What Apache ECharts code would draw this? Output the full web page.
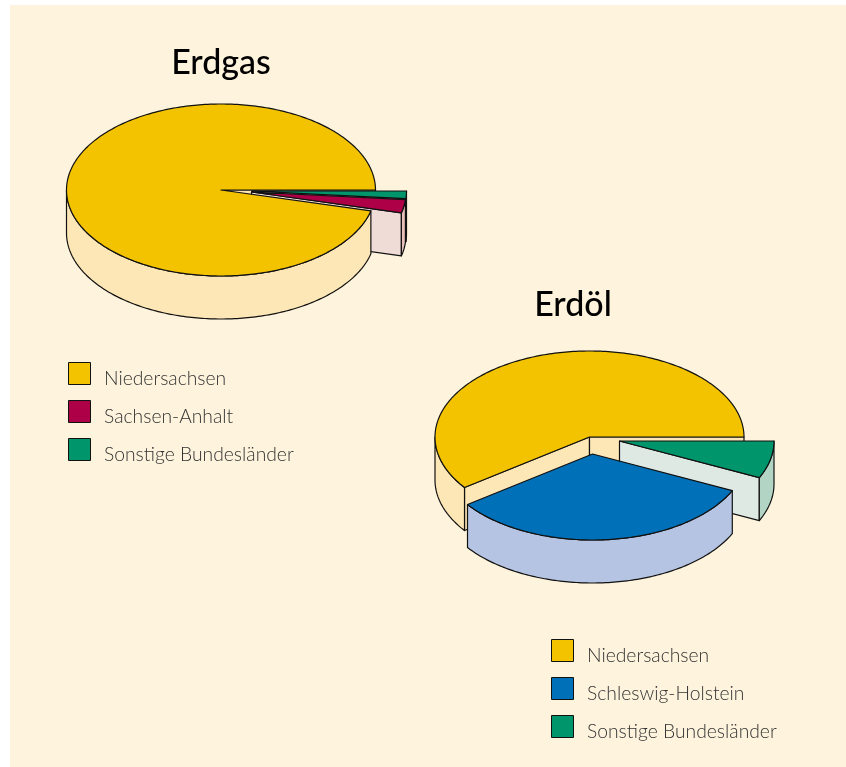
<!DOCTYPE html>
<html><head><meta charset="utf-8">
<style>html,body{margin:0;padding:0;background:#fff}#c{width:846px;height:767px}</style>
<script src="https://cdn.jsdelivr.net/npm/echarts@6/dist/echarts.min.js"></script>
</head><body><div id="c"></div>
<script>
// Data (percent shares)
const gasNames = ['Niedersachsen', 'Sachsen-Anhalt', 'Sonstige Bundesländer'];
const gasValues = [96.1, 2.5, 1.4];
const oilNames = ['Niedersachsen', 'Schleswig-Holstein', 'Sonstige Bundesländer'];
const oilValues = [60, 33, 7];

// Styles
const topColors = { 'Niedersachsen': '#f4c300', 'Sachsen-Anhalt': '#ad0046', 'Schleswig-Holstein': '#0070b8', 'Sonstige Bundesländer': '#00956b' };
const faceColors = { 'Niedersachsen': '#fde7b6', 'Sachsen-Anhalt': '#f0dcd6', 'Schleswig-Holstein': '#b6c4e3', 'Sonstige Bundesländer': '#dfe9e4' };
const rimColors = { 'Niedersachsen': '#fde7b6', 'Sachsen-Anhalt': '#e8c2ba', 'Schleswig-Holstein': '#b6c4e3', 'Sonstige Bundesländer': '#b2d4c4' };
const INK = '#111';

const pies = [
  { names: gasNames, values: gasValues, cx: 221, cy: 190, rx: 154.5, ry: 86, depth: 43,
    explode: [[0, 0], [30.5, 2], [31, 1]] },
  { names: oilNames, values: oilValues, cx: 589.5, cy: 437, rx: 154.5, ry: 86, depth: 43,
    explode: [[0, 0], [3, 17], [30, 4]] }
];

// Slices run counter-clockwise on screen from east; angle t is measured clockwise (y down).
function sliceAngles(values) {
  const total = values.reduce((a, b) => a + b, 0);
  let end = 360;
  return values.map(v => {
    const sweep = v / total * 360;
    const r = [end - sweep, end];
    end -= sweep;
    return r;
  });
}
function pt(o, t, dy) {
  const a = t * Math.PI / 180;
  return [o.x + o.rx * Math.cos(a), o.y + o.ry * Math.sin(a) + (dy || 0)];
}
function arc(o, a, b, dy) {
  const n = Math.max(2, Math.ceil(Math.abs(b - a)) + 1), out = [];
  for (let i = 0; i < n; i++) out.push(pt(o, a + (b - a) * i / (n - 1), dy));
  return out;
}
function poly(points, fill, z2) {
  return { type: 'polygon', z2: z2, shape: { points: points },
    style: { fill: fill, stroke: INK, lineWidth: 1.2, lineJoin: 'round' } };
}
function sliceSeries(pie, idx) {
  const angles = sliceAngles(pie.values);
  const name = pie.names[idx];
  return {
    type: 'custom', name: name, coordinateSystem: 'none', silent: true,
    animation: false,
    itemStyle: { color: topColors[name] },
    data: [pie.values[idx]],
    renderItem: function () {
      const [a, b] = angles[idx];
      const e = pie.explode[idx];
      const o = { x: pie.cx + e[0], y: pie.cy + e[1], rx: pie.rx, ry: pie.ry };
      const d = pie.depth, c = [o.x, o.y], children = [];
      // Painter's order: the biggest slice's cut faces first, then the rest back to front
      const base = idx === 0 ? 0 : (idx === 1 ? 12 : 6);
      const cut = t => {
        const p = pt(o, t);
        return poly([c, p, [p[0], p[1] + d], [c[0], c[1] + d]], faceColors[name], base);
      };
      if (Math.sin((a - 90) * Math.PI / 180) > 0) children.push(cut(a));
      if (Math.sin((b + 90) * Math.PI / 180) > 0) children.push(cut(b));
      const lo = Math.max(a, 0), hi = Math.min(b, 180);
      if (hi > lo) {
        children.push(poly(arc(o, lo, hi, 0).concat(arc(o, hi, lo, d)), rimColors[name], idx === 0 ? 20 : base + 1));
      }
      children.push(poly([c].concat(arc(o, a, b, 0)), topColors[name], idx === 0 ? 21 : 30 - idx));
      return { type: 'group', children: children };
    }
  };
}
const series = [];
pies.forEach(p => p.names.forEach((n, i) => series.push(sliceSeries(p, i))));

const legendBase = {
  orient: 'vertical', selectedMode: false, itemWidth: 22, itemHeight: 22, itemGap: 12, padding: 0,
  icon: 'rect', itemStyle: { borderColor: INK, borderWidth: 1 },
  formatter: '{t|{name}}',
  textStyle: { rich: { t: { fontFamily: 'Lato', fontWeight: 300, fontSize: 19.3, color: '#333', padding: [10, 0, 0, 8.5] } } }
};
const titleStyle = { fontFamily: 'Lato', fontWeight: 500, fontSize: 34, color: '#000' };

const option = {
  backgroundColor: '#fff',
  graphic: [{ type: 'rect', z: 0, shape: { x: 10, y: 5, width: 836, height: 762 }, style: { fill: '#fef3dc' } }],
  title: [
    { text: 'Erdgas', left: 221, top: 46, textAlign: 'center', textStyle: titleStyle, padding: 0 },
    { text: 'Erdöl', left: 573, top: 288, textAlign: 'center', textStyle: titleStyle, padding: 0 }
  ],
  legend: [
    Object.assign({}, legendBase, { left: 68, top: 362, data: gasNames }),
    Object.assign({}, legendBase, { left: 551, top: 639, data: oilNames })
  ],
  series: series
};
echarts.init(document.getElementById('c'), null, { renderer: 'canvas' }).setOption(option);
</script></body></html>
